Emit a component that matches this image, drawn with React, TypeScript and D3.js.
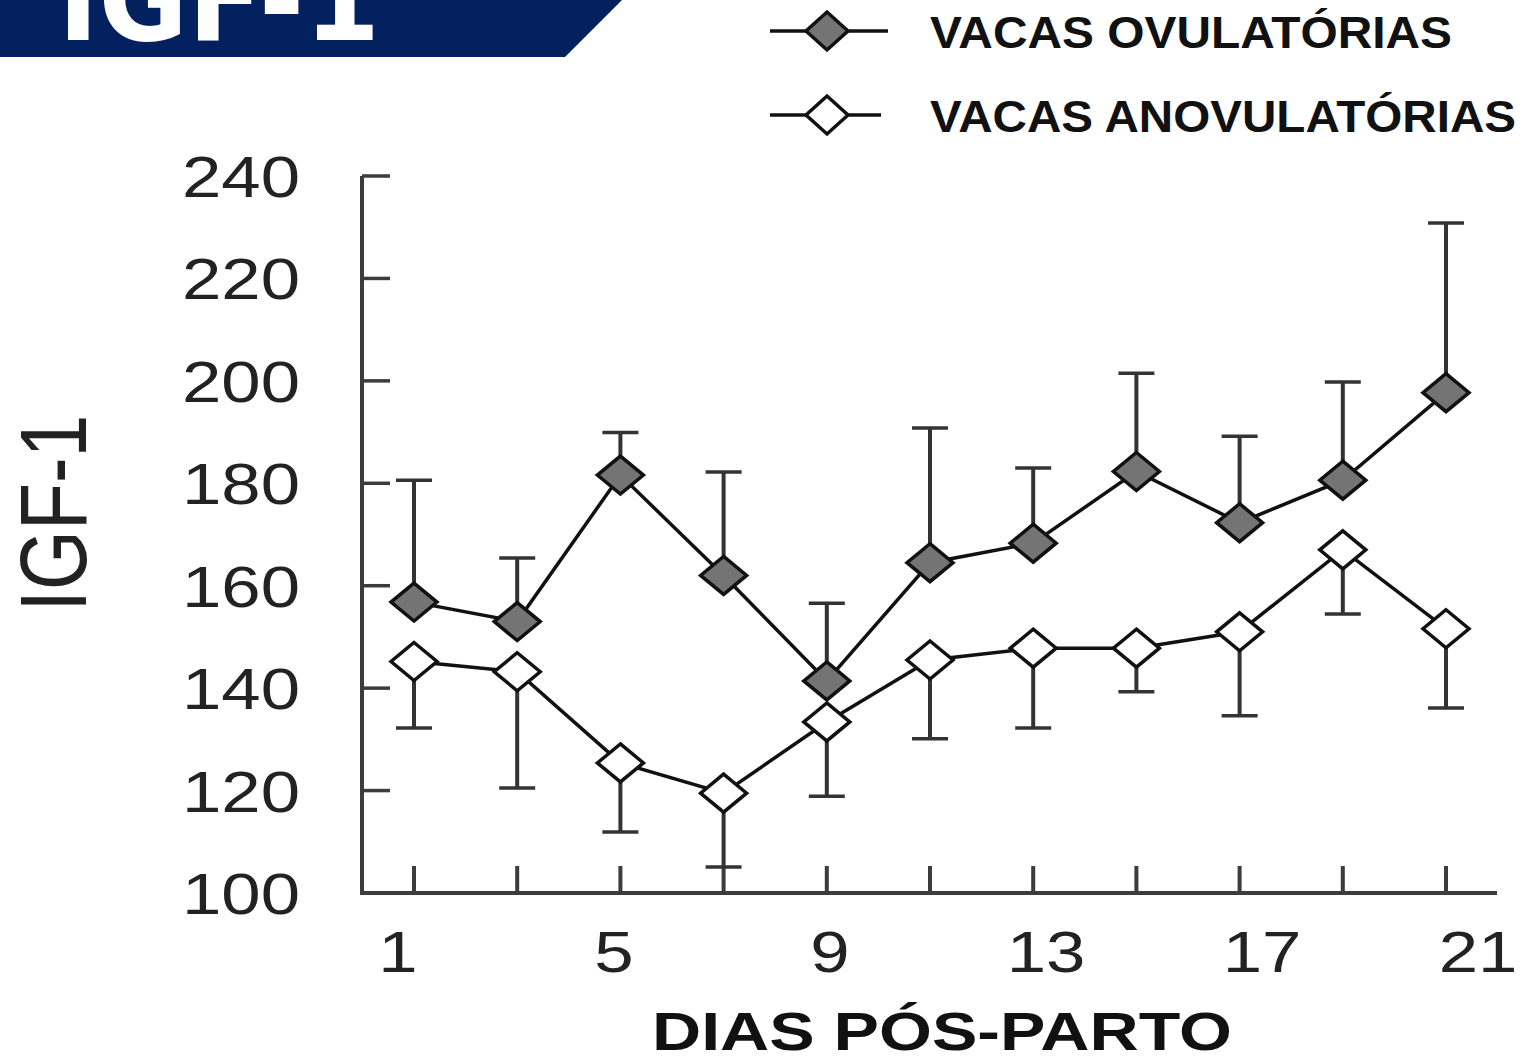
import React from 'react';
import * as d3 from 'd3';

const days = [1, 3, 5, 7, 9, 11, 13, 15, 17, 19, 21];
const ovulatoryMean = [156.8, 153, 181.6, 162, 141.4, 164.5, 168.3, 182.3, 172.3, 180.6, 197.7];
const ovulatoryUpper = [180.6, 165.4, 189.9, 182.2, 156.6, 190.8, 183, 201.5, 189.2, 199.8, 230.8];
const anovulatoryMean = [145.2, 143.2, 125.4, 119.5, 133.4, 145.5, 147.8, 147.8, 151, 167, 151.6];
const anovulatoryLower = [132.2, 120.5, 111.9, 105.1, 118.9, 130.1, 132.2, 139.3, 134.6, 154.5, 136.1];
const yTicks = [100, 120, 140, 160, 180, 200, 220, 240];
const xLabelDays = [1, 5, 9, 13, 17, 21];
const legendLabels = ['VACAS OVULATÓRIAS', 'VACAS ANOVULATÓRIAS'];
const title = 'IGF-1';
const xTitle = 'DIAS PÓS-PARTO';
const yTitle = 'IGF-1';

const W = 1526;
const H = 1057;
const FONT = '"Liberation Sans", Arial, sans-serif';
const AXIS = '#3c3c3c';
const INK = '#111';
const GRAY = '#747474';

function diamond(cx: number, cy: number, hw: number, hh: number) {
  return `M${cx},${cy - hh}L${cx + hw},${cy}L${cx},${cy + hh}L${cx - hw},${cy}Z`;
}

export default function App() {
  const x = d3.scaleLinear().domain([1, 21]).range([414, 1446]);
  const xLab = d3.scaleLinear().domain([1, 21]).range([398, 1478]);
  const y = d3.scaleLinear().domain([100, 240]).range([893, 176]);

  const line = d3
    .line<[number, number]>()
    .x((d) => x(d[0]))
    .y((d) => y(d[1]));

  const ovu: [number, number][] = days.map((d, i) => [d, ovulatoryMean[i]]);
  const ano: [number, number][] = days.map((d, i) => [d, anovulatoryMean[i]]);

  const [x0, x1] = [362, 1497];
  const [yTop, yBot] = y.range().slice().reverse() as [number, number];

  return (
    <svg
      width={W}
      height={H}
      viewBox={`0 0 ${W} ${H}`}
      style={{ position: 'absolute', left: 0, top: 0, background: '#fff' }}
    >
      <rect x={0} y={0} width={W} height={H} fill="#fff" />
      {/* Title banner */}
      <path d="M0,0L622,0L565,57L0,57Z" fill="#03215f" />
      <text
        x={58}
        y={40}
        fill="#fff"
        fontFamily='"DejaVu Sans", sans-serif'
        fontWeight={900}
        fontSize={118}
        textLength={322}
        lengthAdjust="spacingAndGlyphs"
      >
        {title}
      </text>

      {/* Legend */}
      {legendLabels.map((lab, i) => {
        const ly = i === 0 ? 31 : 115;
        const lx1 = i === 0 ? 888 : 881;
        return (
          <g key={lab}>
            <line x1={770} x2={lx1} y1={ly} y2={ly} stroke={INK} strokeWidth={3.5} />
            <path
              d={diamond(827, ly, 21, 19)}
              fill={i === 0 ? GRAY : '#fff'}
              stroke={INK}
              strokeWidth={3.5}
            />
            <text
              x={930}
              y={ly + 17}
              fontFamily={FONT}
              fontWeight="bold"
              fontSize={45}
              fill={INK}
              textLength={i === 0 ? 522 : 586}
              lengthAdjust="spacingAndGlyphs"
            >
              {lab}
            </text>
          </g>
        );
      })}

      {/* Axes */}
      <line x1={x0} x2={x0} y1={yTop} y2={yBot + 2} stroke={AXIS} strokeWidth={4} />
      <line x1={x0 - 2} x2={x1} y1={yBot} y2={yBot} stroke={AXIS} strokeWidth={4} />
      {yTicks.map((t) => (
        <g key={t}>
          <line x1={x0} x2={390} y1={y(t)} y2={y(t)} stroke={AXIS} strokeWidth={3.5} />
          <text
            transform={`translate(300,${y(t) + 21}) scale(1.22,1)`}
            textAnchor="end"
            fontFamily={FONT}
            fontSize={58}
            fill="#222"
          >
            {t}
          </text>
        </g>
      ))}
      {days.map((d) => (
        <line key={d} x1={x(d)} x2={x(d)} y1={yBot} y2={866} stroke={AXIS} strokeWidth={4} />
      ))}
      {xLabelDays.map((d) => (
        <text
          key={d}
          transform={`translate(${xLab(d)},972) scale(1.22,1)`}
          textAnchor="middle"
          fontFamily={FONT}
          fontSize={58}
          fill="#222"
        >
          {d}
        </text>
      ))}
      <text
        x={652}
        y={1050}
        fontFamily={FONT}
        fontWeight="bold"
        fontSize={54}
        fill={INK}
        textLength={580}
        lengthAdjust="spacingAndGlyphs"
      >
        {xTitle}
      </text>
      <text
        transform="translate(53,513) scale(1.22,1) rotate(-90)"
        textAnchor="middle"
        dominantBaseline="central"
        fontFamily={FONT}
        fontSize={77}
        fill="#222"
      >
        {yTitle}
      </text>

      {/* Error bars */}
      {days.map((d, i) => (
        <g key={`eo${d}`}>
          <line
            x1={x(d)}
            x2={x(d)}
            y1={y(ovulatoryMean[i])}
            y2={y(ovulatoryUpper[i])}
            stroke="#333"
            strokeWidth={4}
          />
          <line
            x1={x(d) - 18}
            x2={x(d) + 18}
            y1={y(ovulatoryUpper[i])}
            y2={y(ovulatoryUpper[i])}
            stroke="#333"
            strokeWidth={3.5}
          />
        </g>
      ))}
      {days.map((d, i) => (
        <g key={`ea${d}`}>
          <line
            x1={x(d)}
            x2={x(d)}
            y1={y(anovulatoryMean[i])}
            y2={y(anovulatoryLower[i])}
            stroke="#333"
            strokeWidth={4}
          />
          <line
            x1={x(d) - 18}
            x2={x(d) + 18}
            y1={y(anovulatoryLower[i])}
            y2={y(anovulatoryLower[i])}
            stroke="#333"
            strokeWidth={3.5}
          />
        </g>
      ))}

      {/* Lines */}
      <path d={line(ovu) ?? ''} fill="none" stroke={INK} strokeWidth={3.5} />
      <path d={line(ano) ?? ''} fill="none" stroke={INK} strokeWidth={3.5} />

      {/* Markers */}
      {ovu.map(([d, v]) => (
        <path key={`mo${d}`} d={diamond(x(d), y(v), 23, 19)} fill={GRAY} stroke={INK} strokeWidth={3.5} />
      ))}
      {ano.map(([d, v]) => (
        <path key={`ma${d}`} d={diamond(x(d), y(v), 23, 19)} fill="#fff" stroke={INK} strokeWidth={3.5} />
      ))}
    </svg>
  );
}
